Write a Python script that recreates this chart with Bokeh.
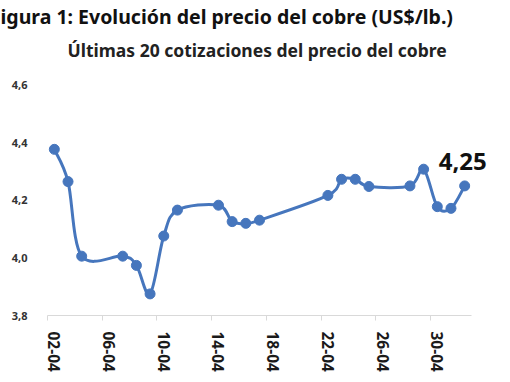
import pandas as pd
from bokeh.plotting import figure
from bokeh.models import FixedTicker, Title, Label
from bokeh.embed import file_html
from bokeh.resources import INLINE

# ---- data ----
dates = ["02-04", "03-04", "04-04", "07-04", "08-04", "09-04", "10-04", "11-04",
         "14-04", "15-04", "16-04", "17-04", "22-04", "23-04", "24-04", "25-04",
         "28-04", "29-04", "30-04", "01-05", "02-05"]
prices = [4.377, 4.265, 4.006, 4.006, 3.974, 3.875, 4.076, 4.166,
          4.183, 4.126, 4.120, 4.131, 4.217, 4.273, 4.273, 4.248,
          4.250, 4.308, 4.178, 4.172, 4.250]
x_tick_labels = ["02-04", "06-04", "10-04", "14-04", "18-04", "22-04", "26-04", "30-04"]
y_ticks = [3.8, 4.0, 4.2, 4.4, 4.6]
y_tick_labels = ["3,8", "4,0", "4,2", "4,4", "4,6"]
title_text = "igura 1: Evolución del precio del cobre (US$/lb.)"
subtitle_text = "Últimas 20 cotizaciones del precio del cobre"

YEAR = 2025
def to_day(s):
    d, m = s.split("-")
    return pd.Timestamp(YEAR, int(m), int(d))

start = to_day(dates[0])
xs = [(to_day(s) - start).days + 0.5 for s in dates]
tick_pos = [(to_day(s) - start).days for s in x_tick_labels]
n_days = (to_day(dates[-1]) - start).days + 1

FONT = "Noto Sans"
BLUE = "#4676bd"

# layout (pixels)
W, H = 494, 374
LEFT, AXIS_RIGHT, RIGHT_BORDER = 47, 471, 4
FRAME_TOP, AXIS_TOP, AXIS_BOTTOM = 73.4, 86, 316
frame_right = W - RIGHT_BORDER
x_end = n_days * (frame_right - LEFT) / (AXIS_RIGHT - LEFT)
y_span = y_ticks[-1] - y_ticks[0]
y_end = y_ticks[-1] + y_span * (AXIS_TOP - FRAME_TOP) / (AXIS_BOTTOM - AXIS_TOP)

p = figure(width=W, height=H, output_backend="svg", toolbar_location=None,
           x_range=(0, x_end), y_range=(y_ticks[0], y_end),
           min_border_left=LEFT, min_border_right=RIGHT_BORDER,
           min_border_bottom=H - AXIS_BOTTOM, min_border_top=0)
p.outline_line_color = None
p.grid.grid_line_color = None
p.background_fill_color = "white"

# titles (p.title is the outer one, the added Title sits nearer the plot)
p.title = Title(text=title_text, align="left", text_font=FONT,
                text_font_size="19.5px", text_font_style="bold", text_color="#111111",
                offset=-LEFT, standoff=0)
p.add_layout(Title(text=subtitle_text, align="left", vertical_align="top", text_font=FONT,
                   text_font_size="17.5px", text_font_style="bold", text_color="#222222",
                   offset=20, standoff=16.8), "above")

# smoothed line (Catmull-Rom -> cubic Bezier, like Excel's smoothed line)
pts = list(zip(xs, prices))
x0s, y0s, x1s, y1s, cx0, cy0, cx1, cy1 = ([] for _ in range(8))
for i in range(len(pts) - 1):
    p0 = pts[i - 1] if i > 0 else pts[i]
    p1 = pts[i]
    p2 = pts[i + 1]
    p3 = pts[i + 2] if i + 2 < len(pts) else pts[i + 1]
    x0s.append(p1[0]); y0s.append(p1[1]); x1s.append(p2[0]); y1s.append(p2[1])
    cx0.append(p1[0] + (p2[0] - p0[0]) / 6); cy0.append(p1[1] + (p2[1] - p0[1]) / 6)
    cx1.append(p2[0] - (p3[0] - p1[0]) / 6); cy1.append(p2[1] - (p3[1] - p1[1]) / 6)
p.bezier(x0=x0s, y0=y0s, x1=x1s, y1=y1s, cx0=cx0, cy0=cy0, cx1=cx1, cy1=cy1,
         line_color=BLUE, line_width=3)
p.scatter(xs, prices, size=10, fill_color=BLUE, line_color=BLUE)

# last value label
last_label = f"{prices[-1]:.2f}".replace(".", ",")
p.add_layout(Label(x=xs[-1], y=prices[-1], text=last_label, text_align="center",
                   text_baseline="alphabetic", x_offset=-2, y_offset=24, text_font=FONT,
                   text_font_size="24px", text_font_style="bold", text_color="#111111"))

# x axis
xa = p.xaxis[0]
xa.bounds = (0, n_days)
xa.ticker = FixedTicker(ticks=[t + 0.5 for t in tick_pos], minor_ticks=tick_pos)
xa.major_label_overrides = {t + 0.5: lab for t, lab in zip(tick_pos, x_tick_labels)}
xa.major_label_orientation = "vertical"
xa.major_label_text_font = FONT
xa.major_label_text_font_size = "15.5px"
xa.major_label_text_font_style = "bold"
xa.major_label_text_color = "#1a1a1a"
xa.major_label_standoff = 10
xa.major_tick_line_color = None
xa.minor_tick_line_color = "#d9d9d9"
xa.minor_tick_out = 5
xa.minor_tick_in = 0
xa.axis_line_color = "#d9d9d9"

# y axis
ya = p.yaxis[0]
ya.ticker = FixedTicker(ticks=y_ticks)
ya.major_label_overrides = {t: lab for t, lab in zip(y_ticks, y_tick_labels)}
ya.major_label_text_font = FONT
ya.major_label_text_font_size = "11px"
ya.major_label_text_font_style = "bold"
ya.major_label_text_color = "#333333"
ya.axis_line_color = None
ya.major_tick_line_color = None
ya.minor_tick_line_color = None
ya.major_label_standoff = 14

open("out.html", "w").write(file_html(p, INLINE))
